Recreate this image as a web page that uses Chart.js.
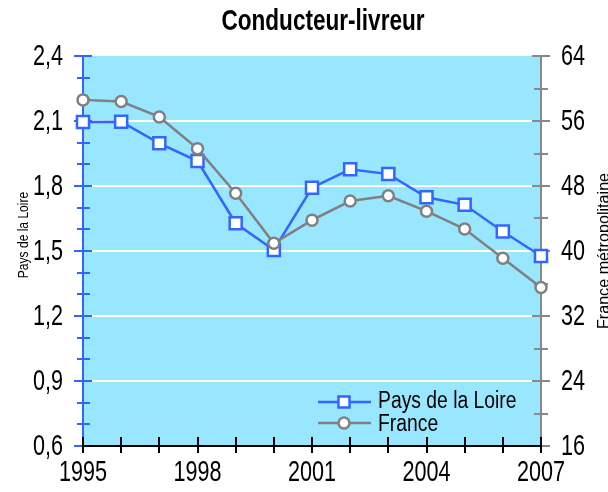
<!DOCTYPE html>
<html>
<head>
<meta charset="utf-8">
<script src="https://cdn.jsdelivr.net/npm/chart.js@4/dist/chart.umd.min.js"></script>
<style>
  html, body { margin: 0; padding: 0; background: #fff; }
  #wrap { width: 608px; height: 492px; }
</style>
</head>
<body>
<div id="wrap"><canvas id="chart" width="608" height="492"></canvas></div>
<script>
// Data
const years = ['1995', '1996', '1997', '1998', '1999', '2000', '2001', '2002', '2003', '2004', '2005', '2006', '2007'];
const loire = [2.095, 2.097, 1.997, 1.915, 1.628, 1.505, 1.792, 1.877, 1.855, 1.748, 1.713, 1.59, 1.477];
const france = [58.6, 58.4, 56.5, 52.6, 47.1, 40.95, 43.8, 46.15, 46.8, 44.9, 42.7, 39.1, 35.5];

const leftRange = [0.6, 2.4];
const rightRange = [16, 64];

const FONT = '"Liberation Sans", "Arimo", "DejaVu Sans", sans-serif';
const BLUE = '#3366ff';
const GREY = '#808080';
const BG = '#99e6ff';

// the original uses a condensed face, so text is squeezed horizontally
function squeezed(ctx, text, x, y, opts) {
    ctx.save();
    ctx.font = opts.font;
    ctx.textAlign = opts.align || 'left';
    ctx.textBaseline = opts.baseline || 'middle';
    ctx.fillStyle = opts.color || '#000';
    ctx.translate(x, y);
    if (opts.rotate) ctx.rotate(opts.rotate);
    ctx.scale(opts.sx, 1);
    ctx.fillText(text, 0, 0);
    ctx.restore();
}

const comma = v => Number(v).toFixed(1).replace('.', ',');

// Background, axis lines, crossing tick marks and texts
const decor = {
    id: 'decor',
    beforeDraw(chart) {
        const a = chart.chartArea;
        const ctx = chart.ctx;
        ctx.save();
        ctx.fillStyle = BG;
        ctx.fillRect(a.left, a.top, a.right - a.left, a.bottom - a.top);
        ctx.restore();
    },
    beforeDatasetsDraw(chart) {
        const a = chart.chartArea;
        const ctx = chart.ctx;
        const y = chart.scales.y;
        const y2 = chart.scales.y2;
        const x = chart.scales.x;
        ctx.save();
        ctx.lineWidth = 2;

        // left axis (blue)
        ctx.strokeStyle = BLUE;
        ctx.beginPath();
        ctx.moveTo(a.left, a.top);
        ctx.lineTo(a.left, a.bottom);
        ctx.stroke();
        for (let i = 0; i <= 18; i++) {
            const py = Math.round(y.getPixelForValue(leftRange[0] + i * 0.1));
            const major = i % 3 === 0;
            ctx.beginPath();
            ctx.moveTo(a.left - (major ? 9 : 6), py);
            ctx.lineTo(a.left + (major ? 9 : 7), py);
            ctx.stroke();
        }

        // right axis (grey)
        ctx.strokeStyle = '#888888';
        ctx.beginPath();
        ctx.moveTo(a.right, a.top);
        ctx.lineTo(a.right, a.bottom);
        ctx.stroke();
        for (let i = 0; i <= 12; i++) {
            const py = Math.round(y2.getPixelForValue(rightRange[0] + i * 4));
            const major = i % 2 === 0;
            ctx.beginPath();
            ctx.moveTo(a.right - (major ? 9 : 7), py);
            ctx.lineTo(a.right + (major ? 9 : 7), py);
            ctx.stroke();
        }

        // bottom axis (black)
        ctx.strokeStyle = '#000';
        ctx.beginPath();
        ctx.moveTo(a.left, a.bottom);
        ctx.lineTo(a.right, a.bottom);
        ctx.stroke();
        years.forEach((yr, i) => {
            const px = Math.round(x.getPixelForValue(i));
            ctx.beginPath();
            ctx.moveTo(px, a.bottom - 9);
            ctx.lineTo(px, a.bottom + 7);
            ctx.stroke();
        });
        ctx.restore();
    },
    afterDraw(chart) {
        const a = chart.chartArea;
        const ctx = chart.ctx;
        const sy = chart.scales.y;
        const sy2 = chart.scales.y2;
        const sx = chart.scales.x;

        // tick labels
        const tickFont = '30px ' + FONT;
        sy.ticks.forEach(t => {
            squeezed(ctx, comma(t.value), 63, sy.getPixelForValue(t.value) + 1,
                { font: tickFont, align: 'right', sx: 0.72 });
        });
        sy2.ticks.forEach(t => {
            squeezed(ctx, String(t.value), 561, sy2.getPixelForValue(t.value) + 1,
                { font: tickFont, align: 'left', sx: 0.72 });
        });
        sx.ticks.forEach((t, i) => {
            if (!t.label) return;
            squeezed(ctx, t.label, sx.getPixelForValue(i), 473,
                { font: tickFont, align: 'center', sx: 0.72 });
        });

        // title, squeezed to the original width
        ctx.save();
        ctx.font = 'bold 30px ' + FONT;
        const tw = ctx.measureText('Conducteur-livreur').width;
        ctx.restore();
        squeezed(ctx, 'Conducteur-livreur', 323, 22,
            { font: 'bold 30px ' + FONT, align: 'center', sx: 203 / tw });

        // axis titles, both reading upwards
        squeezed(ctx, 'Pays de la Loire', 28, 235,
            { font: '14px ' + FONT, align: 'center', baseline: 'alphabetic', rotate: -Math.PI / 2, sx: 0.86 });
        squeezed(ctx, 'France métropolitaine', 609, 251,
            { font: '17px ' + FONT, align: 'center', baseline: 'alphabetic', rotate: -Math.PI / 2, sx: 0.95 });

        // legend inside the plot
        const rows = [
            { ds: chart.data.datasets[1], y: 402, ty: 402 },
            { ds: chart.data.datasets[0], y: 423, ty: 425 }
        ];
        ctx.save();
        rows.forEach(r => {
            ctx.strokeStyle = r.ds.borderColor;
            ctx.lineWidth = 2.5;
            ctx.beginPath();
            ctx.moveTo(318, r.y);
            ctx.lineTo(371, r.y);
            ctx.stroke();
            ctx.fillStyle = '#fff';
            ctx.beginPath();
            if (r.ds.pointStyle === 'rect') {
                ctx.rect(344 - 5.5, r.y - 5.5, 11, 11);
            } else {
                ctx.arc(344, r.y, 5.5, 0, Math.PI * 2);
            }
            ctx.fill();
            ctx.stroke();
            squeezed(ctx, r.ds.label, 378, r.ty, { font: '23px ' + FONT, align: 'left', sx: 0.84 });
        });
        ctx.restore();
    }
};

new Chart(document.getElementById('chart'), {
    type: 'line',
    data: {
        labels: years,
        datasets: [
            {
                label: 'France',
                data: france,
                yAxisID: 'y2',
                borderColor: GREY,
                borderWidth: 2.5,
                pointStyle: 'circle',
                pointRadius: 5.5,
                pointBorderWidth: 2.5,
                pointBackgroundColor: '#fff',
                pointBorderColor: GREY,
                tension: 0,
                clip: false,
                order: 0
            },
            {
                label: 'Pays de la Loire',
                data: loire,
                yAxisID: 'y',
                borderColor: BLUE,
                borderWidth: 2.5,
                pointStyle: 'rect',
                pointRadius: 8.5,
                pointBorderWidth: 2.5,
                pointBackgroundColor: '#fff',
                pointBorderColor: BLUE,
                tension: 0,
                clip: false,
                order: 1
            }
        ]
    },
    options: {
        responsive: false,
        animation: false,
        events: [],
        layout: { padding: { top: 56, left: 0, right: 0, bottom: 0 } },
        plugins: {
            legend: { display: false },
            title: { display: false },
            tooltip: { enabled: false }
        },
        scales: {
            x: {
                type: 'category',
                offset: false,
                border: { display: false },
                grid: { display: false, drawTicks: false },
                ticks: {
                    display: false,
                    autoSkip: false,
                    callback: (v, i) => (i % 3 === 0 ? years[i] : '')
                },
                afterFit: s => { s.height = 46; }
            },
            y: {
                position: 'left',
                min: leftRange[0],
                max: leftRange[1],
                border: { display: false },
                grid: {
                    drawTicks: false,
                    lineWidth: 2,
                    color: c => (c.index > 0 && c.index < 6 ? '#ffffff' : 'rgba(0,0,0,0)')
                },
                ticks: { display: false, stepSize: 0.3 },
                afterFit: s => { s.width = 83; }
            },
            y2: {
                position: 'right',
                min: rightRange[0],
                max: rightRange[1],
                border: { display: false },
                grid: { display: false, drawTicks: false },
                ticks: { display: false, stepSize: 8 },
                afterFit: s => { s.width = 67; }
            }
        }
    },
    plugins: [decor]
});
</script>
</body>
</html>
